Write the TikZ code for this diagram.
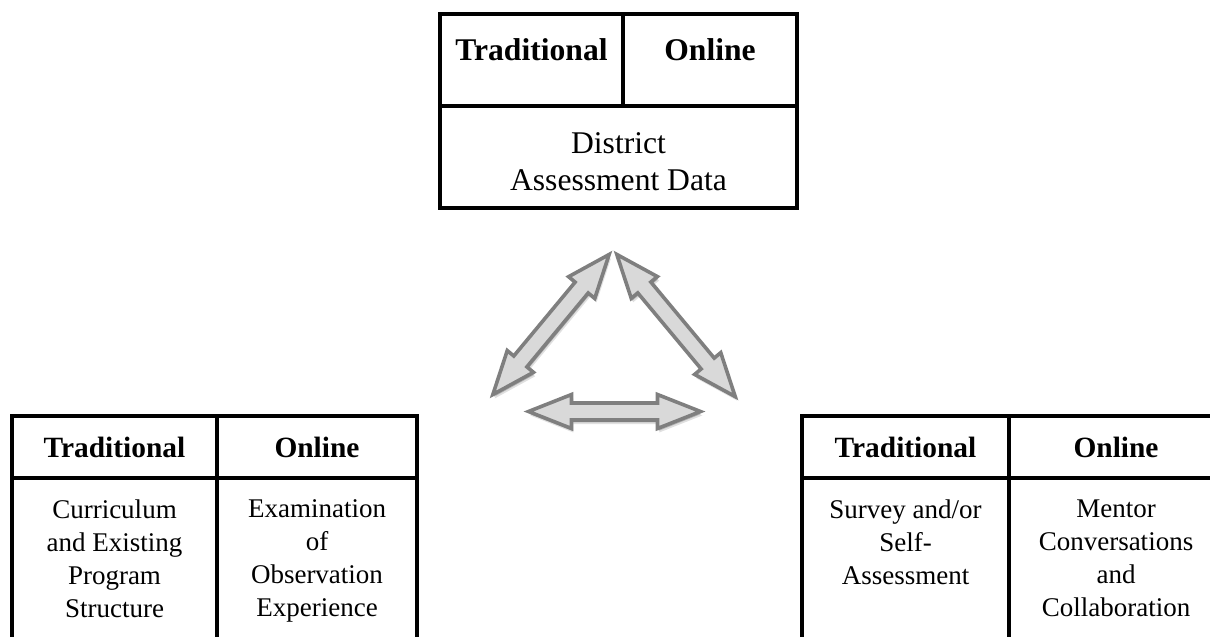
\documentclass[tikz,border=0pt]{standalone}
\usepackage{fontspec}
\setmainfont{Liberation Serif}
\usetikzlibrary{shadows}
\definecolor{arrowfill}{HTML}{D9D9D9}
\definecolor{arrowline}{HTML}{7F7F7F}

\begin{document}
\begin{tikzpicture}[x=0.5pt,y=-0.5pt,
        rule/.style={line width=1.6pt},
        headtxt/.style={inner sep=0pt,font=\fontsize{14.7}{17}\selectfont\bfseries},
        celltxt/.style={inner sep=0pt,anchor=north,align=center,font=\fontsize{13.5}{16.5}\selectfont},
        arrowbody/.style={fill=arrowfill,draw=arrowline,line width=1.8pt,line join=miter,
            drop shadow={shadow xshift=0.9pt,shadow yshift=-2pt,opacity=0.12,fill=black},
            drop shadow={shadow xshift=0.5pt,shadow yshift=-1.2pt,opacity=0.2,fill=black}},
        pics/twoway/.style={code={
                \pgfmathsetmacro\hl{#1/2}
                \pgfmathsetmacro\hb{#1/2-43}
                \draw[arrowbody] (-\hl,0) -- (-\hb,-17) -- (-\hb,-8.5) -- (\hb,-8.5) -- (\hb,-17)
                    -- (\hl,0) -- (\hb,17) -- (\hb,8.5) -- (-\hb,8.5) -- (-\hb,17) -- cycle;
            }}]
    \useasboundingbox (0,0) rectangle (1210,637);
    \clip (0,0) rectangle (1210,637);
    %===========================================
    % district table
    \draw[rule] (440,14) rectangle (797,208);
    \draw[rule] (440,106) -- (797,106) (623,14) -- (623,106);
    \node[headtxt,font=\fontsize{15.8}{18}\selectfont\bfseries] (topT) at (531.5,50) {Traditional};
    \node[headtxt,font=\fontsize{15.8}{18}\selectfont\bfseries] (topO) at (710,50) {Online};
    \node[celltxt,anchor=center,font=\fontsize{15.8}{18.5}\selectfont] (district) at (618.5,161.5) {District\\Assessment Data};
    %===========================================
    % left table
    \draw[rule] (12,650) |- (417,416) -- (417,650) (12,478) -- (417,478) (217,416) -- (217,650);
    \node[headtxt] (leftT) at (114.5,447) {Traditional};
    \node[headtxt] (leftO) at (317,447) {Online};
    \node[celltxt] (curric) at (114.5,499) {Curriculum\\and Existing\\Program\\Structure};
    \node[celltxt] (observ) at (317,499) {Examination\\of\\Observation\\Experience};
    %===========================================
    % right table
    \draw[rule] (802,650) |- (1225,416) (802,478) -- (1225,478) (1009,416) -- (1009,650);
    \node[headtxt] (rightT) at (905.5,447) {Traditional};
    \node[headtxt] (rightO) at (1116,447) {Online};
    \node[celltxt] (survey) at (905.5,499) {Survey and/or\\Self-\\Assessment};
    \node[celltxt] (mentor) at (1116,499) {Mentor\\Conversations\\and\\Collaboration};
    %===========================================
    % two-way arrows
    \pic[rotate=50.3] (upleft) at (551,324.5) {twoway=182};
    \pic[rotate=-50.2] (upright) at (676,325.5) {twoway=185};
    \pic (across) at (614.5,411.5) {twoway=172};
\end{tikzpicture}
\end{document}
